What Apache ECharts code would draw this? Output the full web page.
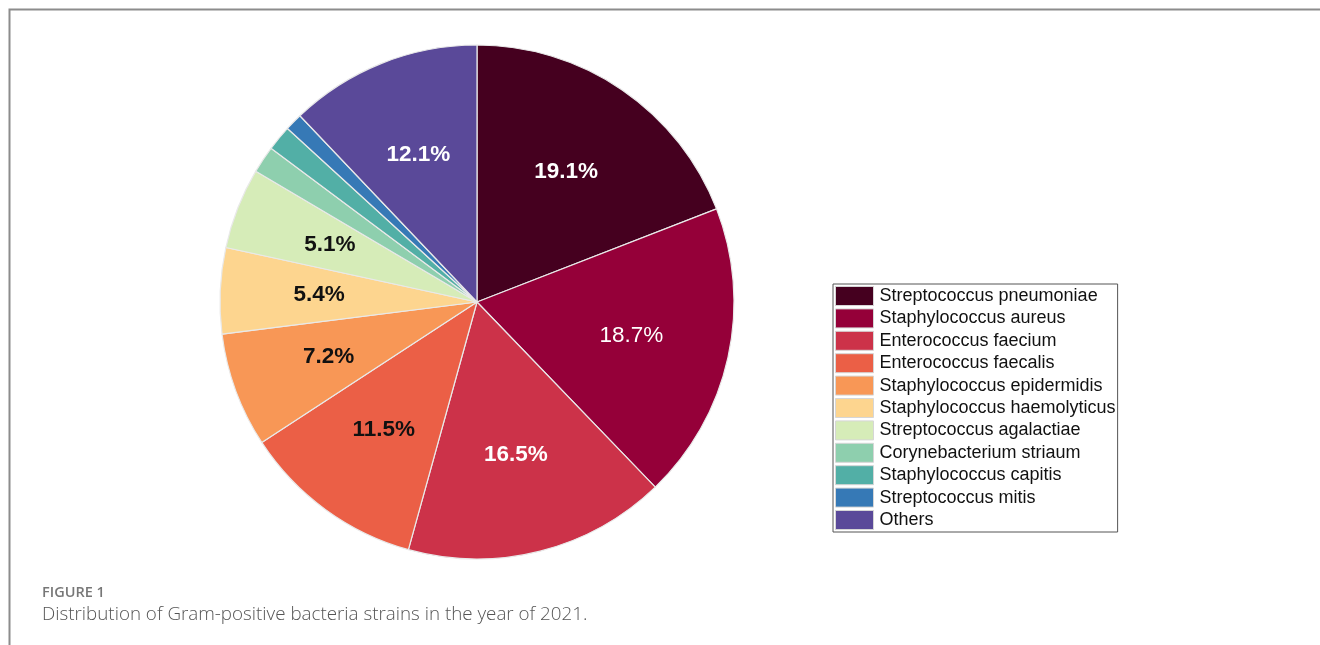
<!DOCTYPE html>
<html lang="en">
<head>
    <meta charset="UTF-8">
    <style>
        html, body { margin: 0; padding: 0; background: #fff; }
        #pie { width: 1320px; height: 645px; }
    </style>
</head>
<body>
<div id="pie"></div>
<script src="https://cdn.jsdelivr.net/npm/echarts@6/dist/echarts.min.js"></script>
<script type="text/javascript">
    var strains = ['Streptococcus pneumoniae', 'Staphylococcus aureus', 'Enterococcus faecium',
        'Enterococcus faecalis', 'Staphylococcus epidermidis', 'Staphylococcus haemolyticus',
        'Streptococcus agalactiae', 'Corynebacterium striaum', 'Staphylococcus capitis',
        'Streptococcus mitis', 'Others'];
    var shares = [19.1, 18.7, 16.5, 11.5, 7.2, 5.4, 5.1, 1.7, 1.6, 1.1, 12.1];

    var palette = ['#45001f', '#950039', '#cc3249', '#eb5f46', '#f89756', '#fdd58f',
        '#d6ecb8', '#8ecfae', '#52afa6', '#3679b6', '#5a4999'];
    // which labels are white, which are plain weight
    var whiteLabels = [0, 1, 2, 10];
    var plainLabels = [1];
    var minLabelShare = 5;
    var sansFont = 'Arial, "Liberation Sans", Helvetica, sans-serif';

    var chart = echarts.init(document.getElementById('pie'));

    var sliceData = [];
    var labelData = [];
    for (var i = 0; i < strains.length; i++) {
        sliceData.push({name: strains[i], value: shares[i]});
        labelData.push({
            name: strains[i],
            value: shares[i],
            label: {
                show: shares[i] >= minLabelShare,
                color: whiteLabels.indexOf(i) >= 0 ? '#fff' : '#111',
                fontWeight: plainLabels.indexOf(i) >= 0 ? 'normal' : 'bold'
            }
        });
    }

    var option = {
        animation: false,
        color: palette,
        legend: {
            orient: 'vertical',
            left: 833,
            top: 284,
            data: strains,
            icon: 'rect',
            itemWidth: 38,
            itemHeight: 19,
            itemGap: 2.4,
            padding: [2, 2, 2, 2],
            borderColor: '#555',
            borderWidth: 1,
            selectedMode: false,
            itemStyle: {borderColor: '#d6d6d6', borderWidth: 1},
            textStyle: {
                fontFamily: sansFont,
                fontSize: 18,
                color: '#111',
                padding: [0, 0, 0, 1]
            }
        },
        graphic: [
            {
                type: 'polyline',
                shape: {points: [[9.5, 645], [9.5, 9.5], [1320, 9.5]]},
                style: {stroke: '#8c8c8c', lineWidth: 2, fill: null},
                silent: true
            },
            {
                type: 'text',
                left: 42,
                top: 585,
                style: {text: 'FIGURE 1', fill: '#777', font: '600 14.5px "Open Sans", sans-serif'}
            },
            {
                type: 'text',
                left: 42,
                top: 605,
                style: {
                    text: 'Distribution of Gram-positive bacteria strains in the year of 2021.',
                    fill: '#555',
                    font: '300 18.8px "Open Sans", sans-serif'
                }
            }
        ],
        series: [
            {
                type: 'pie',
                center: [477, 302],
                radius: [0, 257],
                startAngle: 90,
                clockwise: true,
                silent: true,
                avoidLabelOverlap: false,
                label: {show: false},
                labelLine: {show: false},
                itemStyle: {borderColor: '#e9e9e9', borderWidth: 1.2},
                data: sliceData
            },
            {
                // transparent ring, only carries the percentage labels at 60% radius
                type: 'pie',
                center: [477, 302],
                radius: [53, 257],
                startAngle: 90,
                clockwise: true,
                silent: true,
                avoidLabelOverlap: false,
                itemStyle: {color: 'rgba(0,0,0,0)', borderWidth: 0},
                labelLine: {show: false},
                label: {
                    position: 'inside',
                    formatter: function (p) { return p.value.toFixed(1) + '%'; },
                    fontFamily: sansFont,
                    fontSize: 22.5
                },
                data: labelData
            }
        ]
    };

    chart.setOption(option);
</script>
</body>
</html>
